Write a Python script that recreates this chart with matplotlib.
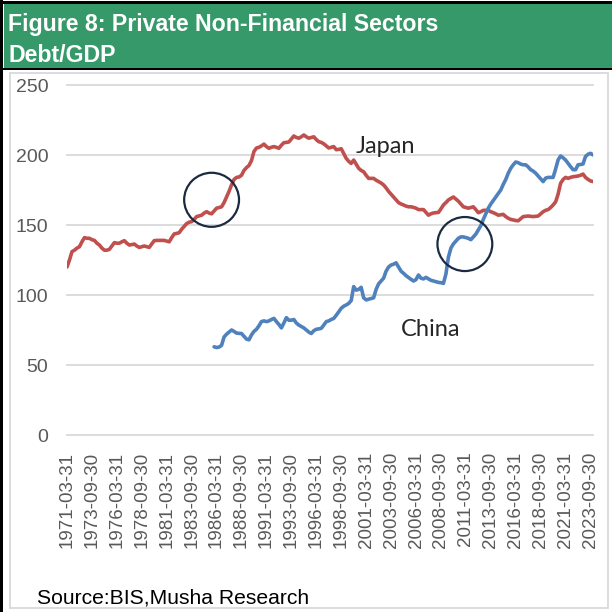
import matplotlib
matplotlib.use("Agg")
import matplotlib.pyplot as plt
from matplotlib.patches import Rectangle, Ellipse
import pandas as pd

# ---------------- data (quarterly, % of GDP) ----------------
start_quarter = "1971-03-31"
japan = [120, 125, 131, 132, 133.5, 134.5, 138, 141, 140.5, 140.5,
         139.5, 139, 137, 135.7, 133.5, 132, 132, 132.6, 135, 137.4,
         137, 137, 138, 138.8, 137, 135.7, 136, 136.4, 135, 134,
         134.5, 135, 134.5, 134, 136.5, 138.8, 139, 139, 139, 139,
         138.5, 138, 141, 143.6, 144, 144.5, 147, 149, 151, 152,
         152.4, 154, 156, 156.5, 157, 158.5, 159.5, 158.5, 158, 160,
         162, 162.5, 163, 166, 170, 174, 178.6, 182.5, 184, 184.3,
         185.5, 189, 191, 192.5, 196, 202.5, 205, 205.5, 206.5, 207.8,
         206, 204.8, 205.5, 206, 205.5, 204.8, 207, 208.8, 209, 209.3,
         211.5, 213.6, 212.5, 212, 213, 214.3, 213, 212, 212.5, 213,
         211, 209.5, 209, 208, 206.5, 205, 205.5, 206, 203.8, 204,
         204.5, 201, 197.6, 195.5, 194, 196.4, 193.5, 190.5, 189, 188,
         185.5, 183.3, 183.3, 183.3, 182, 181, 180, 178.6, 176.5, 174,
         172, 170, 168, 166, 165, 164.3, 163.5, 163, 163, 162.6,
         162, 161, 161, 161, 159, 157, 158, 158.6, 158.8, 159,
         161.5, 164.3, 166, 167.9, 169, 170, 168.5, 167, 165, 163,
         162.5, 162, 162.5, 163, 161, 158.8, 159.5, 160.5, 160.5, 160.5,
         159.5, 158.8, 158, 157, 157.3, 157.6, 156, 154.8, 154, 153.6,
         153.2, 153, 154.5, 156, 156.2, 156.4, 156.2, 156, 156.2, 156.4,
         158, 159.5, 160.5, 161, 162.5, 164.3, 166.5, 172, 179.8, 182.5,
         184, 183.3, 184, 184.5, 184.7, 185, 185.5, 186.4, 184, 182.6,
         181.5, 181]

china_start_index = 59  # 1985-12-31
china = [63, 62.5, 62.8, 64, 70, 72, 73.5, 75, 74, 72.8,
         72.6, 72.5, 70.5, 68.5, 68, 71.5, 74, 75.5, 78, 81,
         81.5, 81, 81.5, 82.5, 83.3, 81, 79, 76.5, 80, 83.8,
         82, 82, 82.5, 80, 78.5, 77.5, 76.5, 75, 73.5, 72.5,
         74.5, 75.5, 75.8, 76.2, 78.5, 81, 81.5, 82.5, 83.3, 85.5,
         88, 90.5, 92, 92.9, 94, 96, 106, 103.5, 104, 105.5,
         98, 96.5, 97, 97.5, 98, 104, 108, 110, 112, 117,
         120, 121.4, 122, 123, 120, 117, 115.5, 113.8, 112.5, 111.2,
         110, 111, 114.3, 112, 111.5, 112.6, 111.5, 110.5, 110, 109.5,
         109, 108.8, 108.3, 115, 127, 133.5, 136.5, 138.5, 140.5, 141.5,
         141.5, 141, 140.5, 139.5, 141.5, 143.5, 146.5, 149.5, 154, 158,
         162, 165, 167.5, 170, 172.5, 175, 179, 182.5, 187, 190.5,
         193, 195, 194.5, 193.5, 193, 193, 191.5, 189.5, 188.5, 187,
         185, 183, 181, 183.5, 184, 184, 184, 190, 196.5, 199.3,
         198, 196.4, 194, 191.7, 189.5, 189.5, 193, 193.2, 193.6, 199,
         200.5, 201.2, 200]

y_ticks = [0, 50, 100, 150, 200, 250]
label_every = 10
title_lines = ["Figure 8: Private Non-Financial Sectors", "Debt/GDP"]
source_text = "Source:BIS,Musha Research"

# ---------------- derived ----------------
dates = pd.date_range(start_quarter, periods=len(japan), freq="QE")
date_labels = [d.strftime("%Y-%m-%d") for d in dates]
x_japan = list(range(len(japan)))
x_china = list(range(china_start_index, china_start_index + len(china)))

W = H = 612
fig = plt.figure(figsize=(W / 100, H / 100), dpi=100)
fig.patch.set_facecolor("white")

def fx(px):
    return px / W

def fy(py):
    return 1 - py / H

# frame / banner
green = "#35996A"
fig.patches.append(Rectangle((fx(4), fy(68)), fx(612) - fx(4), fy(4) - fy(68),
                             transform=fig.transFigure, facecolor=green, edgecolor="none", zorder=0))
fig.patches.append(Rectangle((0, fy(70)), 1, fy(68) - fy(70),
                             transform=fig.transFigure, facecolor="black", edgecolor="none", zorder=1))
fig.patches.append(Rectangle((0, fy(4)), 1, fy(1) - fy(4),
                             transform=fig.transFigure, facecolor="black", edgecolor="none", zorder=1))
fig.patches.append(Rectangle((0, 0), fx(3.5), 1,
                             transform=fig.transFigure, facecolor="black", edgecolor="none", zorder=1))
fig.patches.append(Rectangle((fx(10), fy(608)), fx(608) - fx(10), fy(73) - fy(608),
                             transform=fig.transFigure, facecolor="none", edgecolor="#D9D9D9",
                             linewidth=1.3, zorder=1))

fig.text(fx(8), fy(31.5), title_lines[0], color="white", fontsize=16.7, fontweight="bold",
         family="Liberation Sans", ha="left", va="baseline")
fig.text(fx(8), fy(62), title_lines[1], color="white", fontsize=16.7, fontweight="bold",
         family="Liberation Sans", ha="left", va="baseline")
fig.text(fx(37), fy(604), source_text, color="black", fontsize=15.2,
         family="Liberation Sans", ha="left", va="baseline")

# axes
ax = fig.add_axes([fx(67), fy(435), fx(593) - fx(67), fy(85) - fy(435)])
ax.set_facecolor("none")
ax.plot(x_japan, japan, color="#C0504D", linewidth=2.6, solid_joinstyle="round",
        solid_capstyle="round", zorder=3)
ax.plot(x_china, china, color="#4F81BD", linewidth=2.6, solid_joinstyle="round",
        solid_capstyle="round", zorder=3)

ax.set_xlim(0, len(japan) - 1)
ax.set_ylim(0, 250)
ax.set_yticks(y_ticks)
ax.set_yticklabels([str(v) for v in y_ticks])
tick_pos = list(range(0, len(japan), label_every))
ax.set_xticks(tick_pos)
ax.set_xticklabels([date_labels[i] for i in tick_pos], rotation=90)
for s in ax.spines.values():
    s.set_visible(False)
ax.tick_params(axis="both", length=0, colors="#595959")
ax.tick_params(axis="y", pad=13.5, labelsize=14)
ax.tick_params(axis="x", pad=12, labelsize=13.5)
for lab in ax.get_xticklabels() + ax.get_yticklabels():
    lab.set_family("Liberation Sans")
ax.yaxis.grid(True, color="#D9D9D9", linewidth=1.3)
ax.xaxis.grid(False)
ax.set_axisbelow(True)
for gl in ax.yaxis.get_gridlines():
    gl.set_clip_on(False)

# annotations
ax.text(127.7, 206.4, "Japan", fontsize=17, family="Lato", color="#262626",
        ha="center", va="center")
ax.text(145.8, 75.7, "China", fontsize=17, family="Lato", color="#262626",
        ha="center", va="center")
ax.add_patch(Ellipse((58, 168), 22, 38.6, facecolor="none", edgecolor="#1B2A41",
                     linewidth=1.6, zorder=4))
ax.add_patch(Ellipse((159.6, 136.4), 22, 38.6, facecolor="none", edgecolor="#1B2A41",
                     linewidth=1.6, zorder=4))

fig.savefig("out.png", dpi=100, facecolor="white")
